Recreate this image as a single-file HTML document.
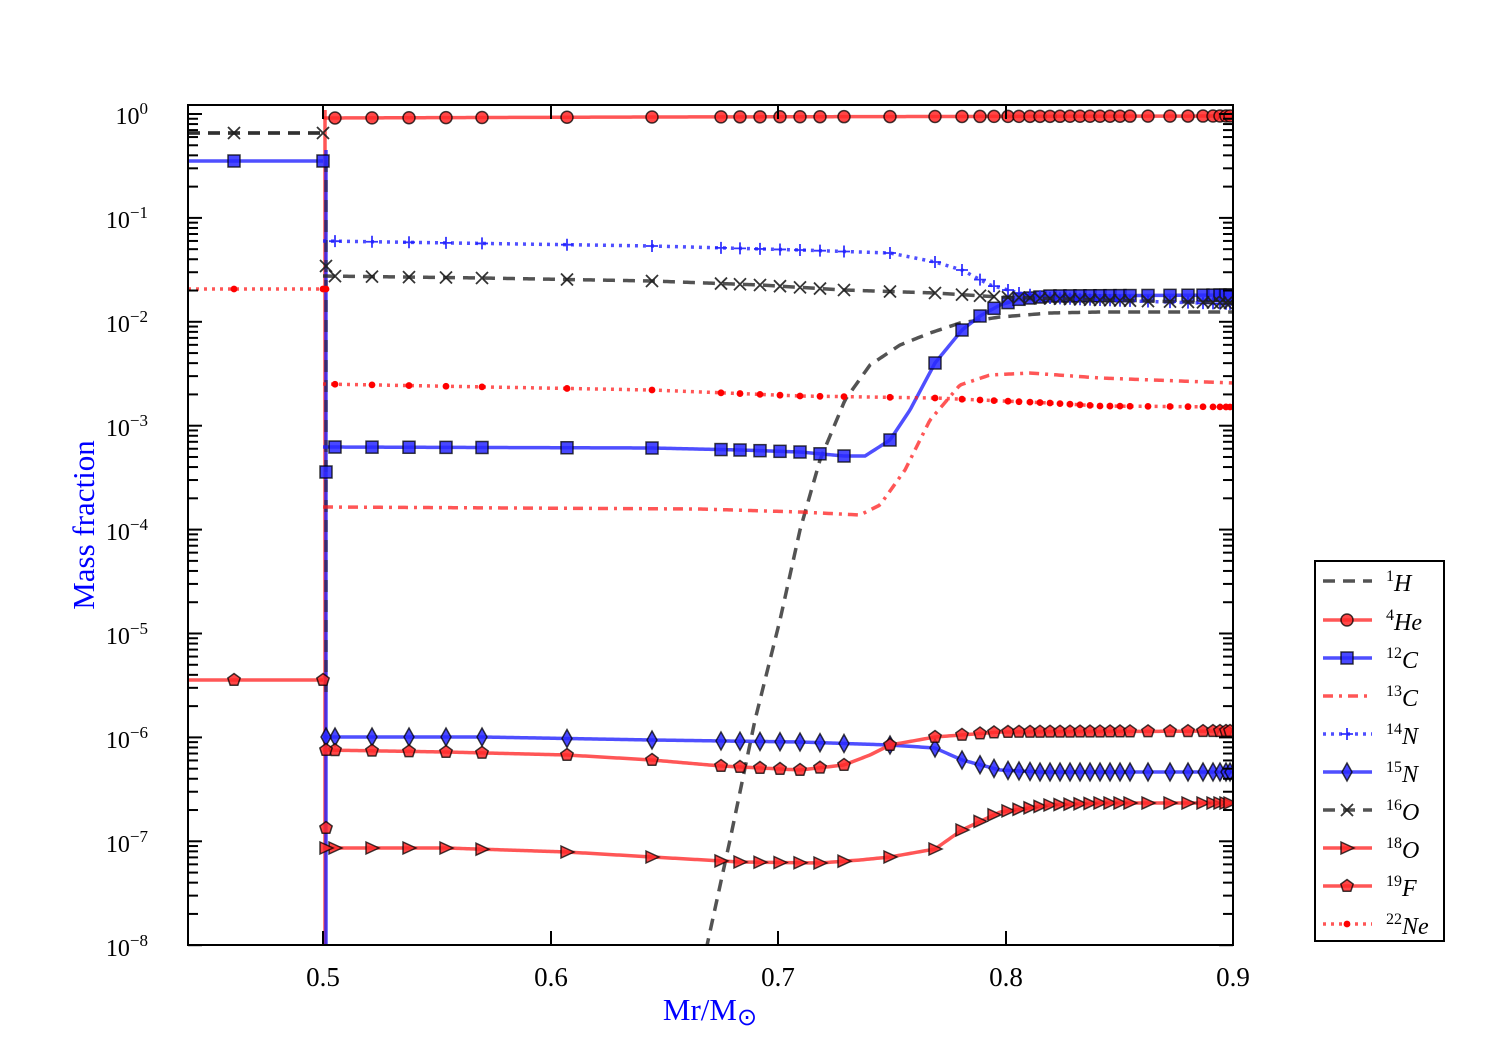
<!DOCTYPE html>
<html><head><meta charset="utf-8"><style>
html,body{margin:0;padding:0;background:#fff}
svg{display:block}
text{font-family:"Liberation Serif",serif}
</style></head><body>
<svg id="s" width="1500" height="1050" xmlns="http://www.w3.org/2000/svg">
<defs><clipPath id="c"><rect x="188" y="105" width="1045" height="840"/></clipPath></defs>
<g id="plot" clip-path="url(#c)"></g>
<rect x="188" y="105" width="1045" height="840" fill="none" stroke="#000" stroke-width="2"/>
<g id="ticks" stroke="#000" stroke-width="2"></g>
<g font-size="27" text-anchor="middle">
<text x="323" y="986">0.5</text><text x="551" y="986">0.6</text><text x="778" y="986">0.7</text><text x="1006" y="986">0.8</text><text x="1233" y="986">0.9</text>
</g>
<g font-size="24" text-anchor="end">
<text x="148" y="124">10<tspan dy="-10" font-size="17">0</tspan></text>
<text x="148" y="228">10<tspan dy="-10" font-size="17">−1</tspan></text>
<text x="148" y="332">10<tspan dy="-10" font-size="17">−2</tspan></text>
<text x="148" y="436">10<tspan dy="-10" font-size="17">−3</tspan></text>
<text x="148" y="540">10<tspan dy="-10" font-size="17">−4</tspan></text>
<text x="148" y="644">10<tspan dy="-10" font-size="17">−5</tspan></text>
<text x="148" y="748">10<tspan dy="-10" font-size="17">−6</tspan></text>
<text x="148" y="852">10<tspan dy="-10" font-size="17">−7</tspan></text>
<text x="148" y="956">10<tspan dy="-10" font-size="17">−8</tspan></text>
</g>
<text x="94" y="525" font-size="31" fill="#0000ff" text-anchor="middle" transform="rotate(-90 94 525)">Mass fraction</text>
<text x="710" y="1020" font-size="31" fill="#0000ff" text-anchor="middle">Mr/M<tspan font-size="24" dy="5">⊙</tspan></text>
<rect x="1315" y="561" width="129" height="380" fill="#fff" stroke="#000" stroke-width="2"/>
<g id="leg"></g>
<g font-size="24" font-style="italic">
<text x="1386" y="591"><tspan font-style="normal" font-size="16" dy="-10">1</tspan><tspan dy="10">H</tspan></text>
<text x="1386" y="630"><tspan font-style="normal" font-size="16" dy="-10">4</tspan><tspan dy="10">He</tspan></text>
<text x="1386" y="668"><tspan font-style="normal" font-size="16" dy="-10">12</tspan><tspan dy="10">C</tspan></text>
<text x="1386" y="706"><tspan font-style="normal" font-size="16" dy="-10">13</tspan><tspan dy="10">C</tspan></text>
<text x="1386" y="744"><tspan font-style="normal" font-size="16" dy="-10">14</tspan><tspan dy="10">N</tspan></text>
<text x="1386" y="782"><tspan font-style="normal" font-size="16" dy="-10">15</tspan><tspan dy="10">N</tspan></text>
<text x="1386" y="820"><tspan font-style="normal" font-size="16" dy="-10">16</tspan><tspan dy="10">O</tspan></text>
<text x="1386" y="858"><tspan font-style="normal" font-size="16" dy="-10">18</tspan><tspan dy="10">O</tspan></text>
<text x="1386" y="896"><tspan font-style="normal" font-size="16" dy="-10">19</tspan><tspan dy="10">F</tspan></text>
<text x="1386" y="934"><tspan font-style="normal" font-size="16" dy="-10">22</tspan><tspan dy="10">Ne</tspan></text>
</g>
</svg>
<script>
var NS="http://www.w3.org/2000/svg";
function el(p,t,a){var e=document.createElementNS(NS,t);for(var k in a)e.setAttribute(k,a[k]);p.appendChild(e);return e;}
var T=document.getElementById('ticks');
for(var d=0;d<9;d++){var y0=114+d*103.9;
 el(T,'line',{x1:188,x2:202,y1:y0,y2:y0});el(T,'line',{x1:1233,x2:1219,y1:y0,y2:y0});
 if(d<8)for(var m=2;m<10;m++){var y=y0+103.9-Math.log10(m)*103.9;el(T,'line',{x1:188,x2:198,y1:y,y2:y});el(T,'line',{x1:1233,x2:1223,y1:y,y2:y});}}
[323,551,778,1006,1233].forEach(function(x){el(T,'line',{x1:x,x2:x,y1:945,y2:931});el(T,'line',{x1:x,x2:x,y1:105,y2:119});});
var RED='rgba(255,30,30,0.75)',BLUE='rgba(30,30,255,0.78)',GRAY='rgba(40,40,40,0.8)';
var MK=[335,372,409,446,482,567,652,721,740,760,780,800,820,844,890,935,962,980,994,1008,1019,1030,1040,1050,1060,1070,1080,1090,1100,1110,1120,1130,1148,1170,1188,1203,1213,1220,1226,1230];
function interp(pts,x){for(var i=0;i<pts.length-1;i++){if(x<=pts[i+1][0]){var a=pts[i],b=pts[i+1];return a[1]+(b[1]-a[1])*(x-a[0])/(b[0]-a[0]);}}return pts[pts.length-1][1];}
function smooth(pts){var s=[];for(var x=pts[0][0];x<=pts[pts.length-1][0];x+=2)s.push([x,interp(pts,x)]);return s;}
var P=document.getElementById('plot');
function line(pts,col,dash){var d='M'+pts.map(function(p){return p[0]+','+p[1]}).join(' L');el(P,'path',{d:d,fill:'none',stroke:col,'stroke-width':3.5,'stroke-dasharray':dash||'none'});}
function marker(g,type,x,y,fill){
 var st={fill:fill,stroke:'rgba(0,0,0,0.75)','stroke-width':1.5};
 if(type=='o')el(g,'circle',Object.assign({cx:x,cy:y,r:6},st));
 else if(type=='s')el(g,'rect',Object.assign({x:x-6,y:y-6,width:12,height:12},st));
 else if(type=='d')el(g,'path',Object.assign({d:'M'+x+','+(y-9)+' L'+(x+5)+','+y+' L'+x+','+(y+9)+' L'+(x-5)+','+y+'Z'},st));
 else if(type=='t')el(g,'path',Object.assign({d:'M'+(x-6)+','+(y-6)+' L'+(x+7)+','+y+' L'+(x-6)+','+(y+6)+'Z'},st));
 else if(type=='p'){var d='';for(var i=0;i<5;i++){var a=-Math.PI/2+i*2*Math.PI/5;d+=(i?'L':'M')+(x+6.5*Math.cos(a))+','+(y+6.5*Math.sin(a));}el(g,'path',Object.assign({d:d+'Z'},st));}
 else if(type=='.')el(g,'circle',{cx:x,cy:y,r:3.4,fill:'red'});
 else if(type=='+'){el(g,'path',{d:'M'+(x-6)+','+y+'H'+(x+6)+'M'+x+','+(y-6)+'V'+(y+6),stroke:'rgba(30,30,255,0.9)','stroke-width':1.8});}
 else if(type=='x'){el(g,'path',{d:'M'+(x-6)+','+(y-6)+'L'+(x+6)+','+(y+6)+'M'+(x-6)+','+(y+6)+'L'+(x+6)+','+(y-6),stroke:'rgba(30,30,30,0.9)','stroke-width':1.8});}
}
var S=[
 {c:GRAY,dash:'12,8',m:null,L:[[188,133],[323,133]],R:[[706,950],[730,840],[755,720],[780,620],[800,530],[820,460],[845,400],[870,365],[900,345],[930,333],[960,323],[1000,317],[1050,313],[1100,312],[1233,312]]},
 {c:RED,m:'o',f:'rgba(255,40,40,0.85)',L:null,R:[[323,118],[652,117],[1233,116]]},
 {c:BLUE,m:'s',f:'rgba(40,40,255,0.85)',L:[[188,161],[323,161]],R:[[323,447],[652,448],[740,450],[800,452],[844,456],[865,456],[890,440],[910,410],[935,363],[962,330],[980,316],[1000,305],[1020,299],[1050,296],[1233,295]]},
 {c:RED,dash:'10,6,3,6',m:null,L:null,R:[[323,507],[700,509],[800,512],[860,515],[880,505],[905,470],[930,420],[960,385],[990,375],[1030,373],[1100,378],[1233,383]]},
 {c:BLUE,dash:'3,5',m:'+',L:null,R:[[323,241],[652,246],[800,250],[890,253],[935,262],[962,270],[990,285],[1019,293],[1050,298],[1100,300],[1233,304]]},
 {c:BLUE,m:'d',f:'rgba(40,40,255,0.85)',L:null,R:[[323,737],[482,737],[652,740],[800,742],[890,745],[935,748],[962,760],[1000,770],[1040,772],[1233,772]]},
 {c:GRAY,dash:'12,8',m:'x',L:[[188,133],[323,133]],R:[[323,276],[482,278],[652,281],[760,285],[844,290],[935,293],[1000,297],[1100,300],[1233,303]]},
 {c:RED,m:'t',f:'rgba(255,40,40,0.85)',L:null,R:[[323,848],[446,848],[567,852],[652,857],[740,862],[820,863],[860,860],[890,857],[935,849],[962,830],[1000,812],[1050,805],[1100,803],[1233,803]]},
 {c:RED,m:'p',f:'rgba(255,40,40,0.85)',L:[[188,680],[323,680]],R:[[323,750],[446,752],[567,755],[652,760],[721,766],[800,770],[844,765],[870,755],[890,745],[935,737],[1000,732],[1233,731]]},
 {c:RED,dash:'3,5',m:'.',L:[[188,289],[323,289]],R:[[323,384],[652,390],[800,396],[935,398],[980,400],[1050,403],[1100,406],[1233,407]]}
];
line([[325,110],[325,950]],RED);line([[326,150],[326,950]],BLUE);line([[326,160],[326,700]],'rgba(40,40,40,0.6)','12,8');
S.forEach(function(s){
 if(s.L){line(s.L,s.c,s.dash);if(s.m){marker(P,s.m,234,s.L[0][1],s.f);marker(P,s.m,323,s.L[0][1],s.f);}}
 line(smooth(s.R),s.c,s.dash);
 if(s.m){MK.forEach(function(x){marker(P,s.m,x,interp(s.R,x),s.f);});}
});
marker(P,'s',326,472,'rgba(40,40,255,0.85)');marker(P,'p',326,828,'rgba(255,40,40,0.85)');marker(P,'t',326,848,'rgba(255,40,40,0.85)');
marker(P,'d',326,737,'rgba(40,40,255,0.85)');marker(P,'p',326,750,'rgba(255,40,40,0.85)');marker(P,'x',326,266);marker(P,'.',326,289);
var G=document.getElementById('leg');var ls=[581,620,658,696,734,772,810,848,886,924];
S.forEach(function(s,i){var y=ls[i];el(G,'path',{d:'M1323,'+y+' L1372,'+y,stroke:s.c,'stroke-width':3.5,fill:'none','stroke-dasharray':s.dash||'none'});if(s.m)marker(G,s.m,1347,y,s.f);});
</script>
</body></html>
